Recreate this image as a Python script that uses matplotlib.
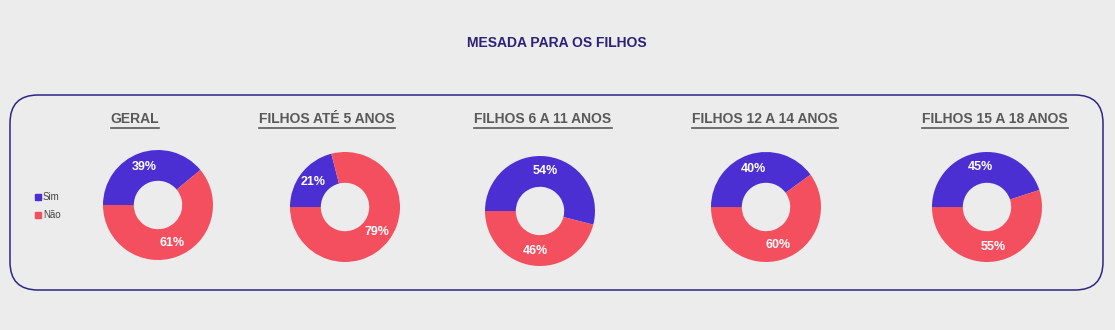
import matplotlib
matplotlib.use("Agg")
import matplotlib.pyplot as plt
from matplotlib.patches import FancyBboxPatch

plt.rcParams['font.family'] = ['Liberation Sans', 'DejaVu Sans']

title = "MESADA PARA OS FILHOS"
groups = ["GERAL", "FILHOS ATÉ 5 ANOS", "FILHOS 6 A 11 ANOS", "FILHOS 12 A 14 ANOS", "FILHOS 15 A 18 ANOS"]
categories = ["Sim", "Não"]
sim = [39, 21, 54, 40, 45]
nao = [61, 79, 46, 60, 55]
colors = ["#4b2fd2", "#f44f5f"]

W, H = 1115, 330
fig = plt.figure(figsize=(W / 100, H / 100), dpi=100)
fig.patch.set_facecolor("#ececec")
ax = fig.add_axes([0, 0, 1, 1])
ax.set_xlim(0, W)
ax.set_ylim(H, 0)
ax.axis("off")

# rounded box
box = FancyBboxPatch((10, 95), 1093, 195, boxstyle="round,pad=0,rounding_size=28",
                     fill=False, edgecolor="#2e2584", linewidth=1.1)
ax.add_patch(box)

ax.text(557, 43, title, ha="center", va="center", fontsize=10, fontweight="bold", color="#2b2178")

title_x = [135, 327, 543, 765, 995]
centers = [(158, 205), (345, 207), (540, 211), (766, 207), (987, 207)]
R = 55

fig.canvas.draw()
renderer = fig.canvas.get_renderer()
for i, g in enumerate(groups):
    t = ax.text(title_x[i], 119, g, ha="center", va="center", fontsize=10,
                fontweight="bold", color="#595959")
    bb = t.get_window_extent(renderer)
    inv = ax.transData.inverted()
    (x0, y0), (x1, y1) = inv.transform([(bb.x0, bb.y0), (bb.x1, bb.y1)])
    ax.plot([x0, x1], [y0 + 1.5, y0 + 1.5], color="#595959", lw=1.2)

    cx, cy = centers[i]
    pax = fig.add_axes([(cx - R) / W, 1 - (cy + R) / H, 2 * R / W, 2 * R / H])
    pax.pie([sim[i], nao[i]], colors=colors, startangle=180, counterclock=False,
            radius=1, wedgeprops=dict(width=0.56, linewidth=0),
            autopct=lambda p: f"{p:.0f}%", pctdistance=0.73,
            textprops=dict(color="white", fontsize=9, fontweight="bold"))
    pax.set_xlim(-1, 1)
    pax.set_ylim(-1, 1)
    pax.set_aspect("equal")
    pax.axis("off")

# legend
for j, (lab, c) in enumerate(zip(categories, colors)):
    y = 197 + j * 18
    ax.plot(38, y, marker="s", markersize=5, color=c, linestyle="none")
    ax.text(43, y, lab, ha="left", va="center", fontsize=7, color="#444444")

fig.savefig("out.png", dpi=100, facecolor=fig.get_facecolor())
